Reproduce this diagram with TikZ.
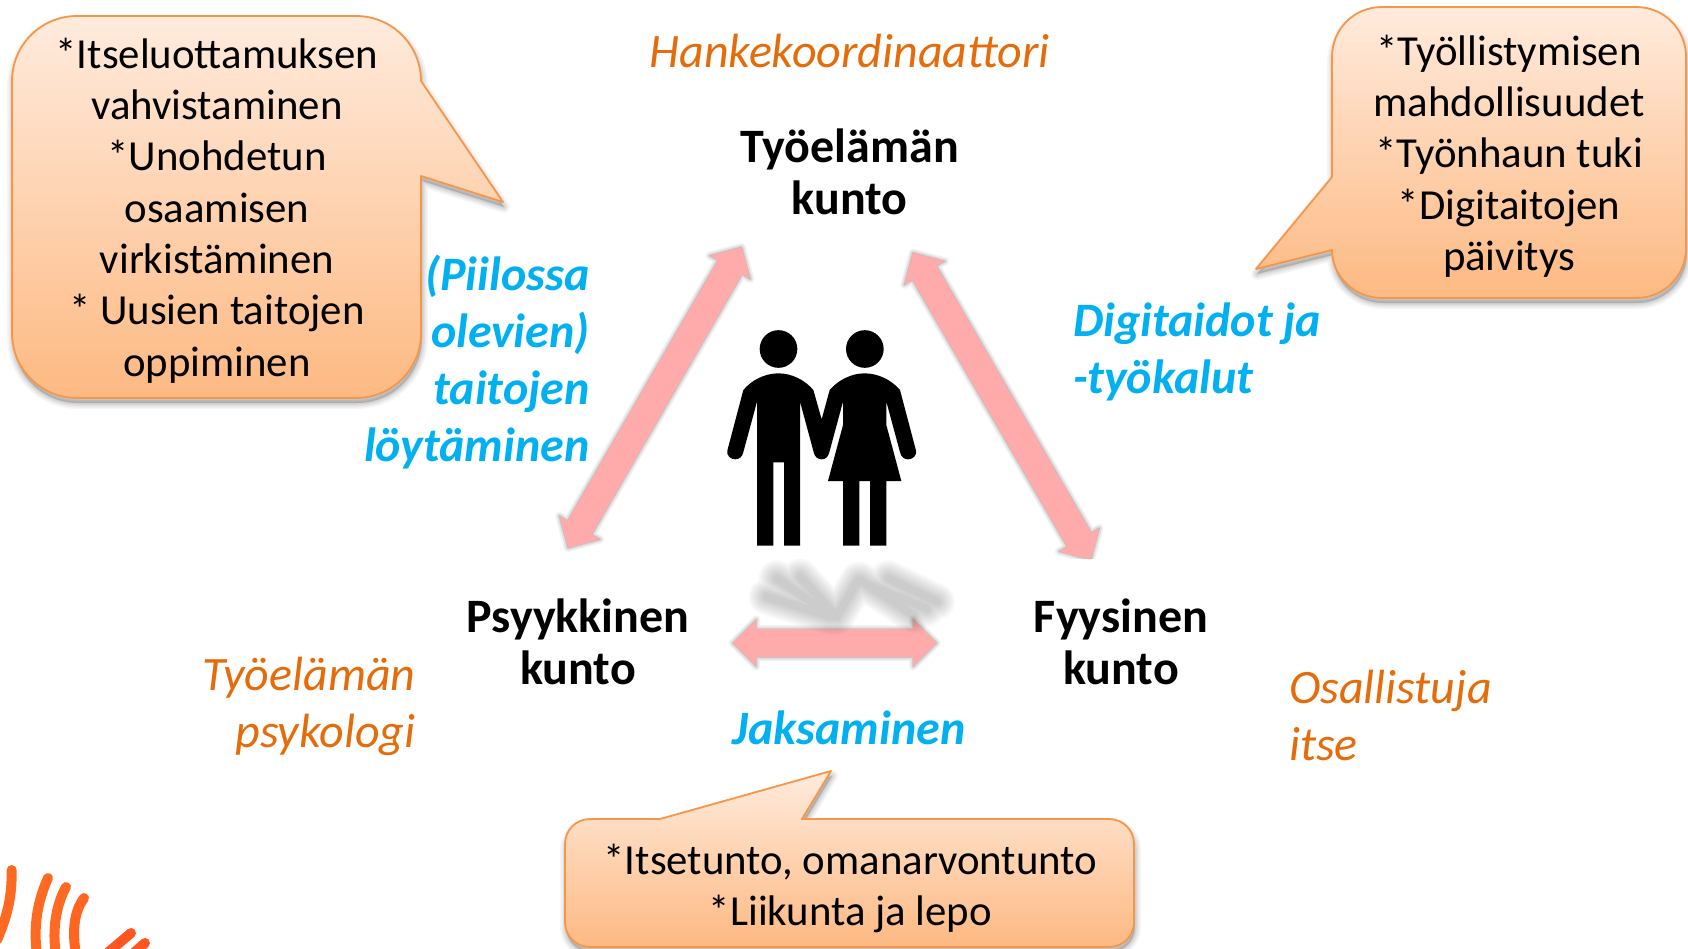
\documentclass[tikz,border=0pt]{standalone}
\usepackage{fontspec}
\setmainfont{Carlito}
\usetikzlibrary{calc}
\definecolor{calloutline}{HTML}{F79646}
\definecolor{calloutTop}{HTML}{FFEBDD}
\definecolor{calloutBot}{HTML}{FDB982}
\definecolor{arrowpink}{HTML}{FFABAB}
\definecolor{roleorange}{HTML}{E46C0A}
\definecolor{skillblue}{HTML}{00B0F0}
\definecolor{logoA}{HTML}{FF6A22}
\definecolor{logoB}{HTML}{FF5520}
\tikzset{
  every node/.style={inner sep=0pt,outer sep=0pt},
  bubbletext/.style={font=\fontsize{42.8}{51.3}\selectfont,text=black,align=center},
  dimtext/.style={font=\fontsize{48}{51.7}\selectfont\bfseries,text=black,align=center},
  roletext/.style={font=\fontsize{48}{57}\selectfont\itshape,text=roleorange},
  skilltext/.style={font=\fontsize{48}{57}\selectfont\bfseries\itshape,text=skillblue},
  bubble/.style={draw=calloutline,line width=1.8pt,top color=calloutTop,bottom color=calloutBot,line join=round},
  pinkarrow/.style={fill=arrowpink,draw=none},
  logostroke/.style={line width=10pt,line cap=round},
}
% soft shadow: several widening translucent copies of a path
\newcommand{\softshadow}[3]{%
  \foreach \wd/\op in {#3}{%
    \path[draw=black,fill=black,draw opacity=\op,fill opacity=\op,line width=\wd pt,line join=round,shift={#1}] #2;}%
}
\newcommand{\arrowpath}[2]{%
  (#1) -- ($(#1)!23.5pt!(#2)!23.5pt!90:(#2)$) -- ($(#1)!23.5pt!(#2)!14pt!90:(#2)$)
  -- ($(#2)!23.5pt!(#1)!14pt!-90:(#1)$) -- ($(#2)!23.5pt!(#1)!23.5pt!-90:(#1)$)
  -- (#2) -- ($(#2)!23.5pt!(#1)!23.5pt!90:(#1)$) -- ($(#2)!23.5pt!(#1)!14pt!90:(#1)$)
  -- ($(#1)!23.5pt!(#2)!14pt!-90:(#2)$) -- ($(#1)!23.5pt!(#2)!23.5pt!-90:(#2)$) -- cycle}
\newcommand{\leftbubble}{(77,16) -- (356,16) .. controls (392,16) and (421,45) .. (421,81) -- (503,202) -- (421,176) -- (421,333) .. controls (421,369) and (392,398) .. (356,398) -- (77,398) .. controls (41,398) and (12,369) .. (12,333) -- (12,81) .. controls (12,45) and (41,16) .. (77,16) -- cycle}
\newcommand{\rightbubble}{(1382,7) -- (1636,7) .. controls (1664,7) and (1686,29) .. (1686,57) -- (1686,248) .. controls (1686,276) and (1664,298) .. (1636,298) -- (1382,298) .. controls (1354,298) and (1332,276) .. (1332,250) -- (1256,269) -- (1332,177) -- (1332,57) .. controls (1332,29) and (1354,7) .. (1382,7) -- cycle}
\newcommand{\bottombubble}{(590,819) -- (660,819) -- (831,771) -- (802,819) -- (1109,819) .. controls (1123,819) and (1134,830) .. (1134,844) -- (1134,922) .. controls (1134,936) and (1123,947) .. (1109,947) -- (590,947) .. controls (576,947) and (565,936) .. (565,922) -- (565,844) .. controls (565,830) and (576,819) .. (590,819) -- cycle}
\begin{document}
\begin{tikzpicture}[x=1pt,y=-1pt]
\clip (0,0) rectangle (1688,948);
\useasboundingbox (0,0) rectangle (1688,948);

% logo
\draw[logostroke,logoA] (11.7,870) .. controls (12,895) and (8,915) .. (-3,940);
\draw[logostroke,logoA] (48,878) .. controls (38,900) and (33,925) .. (37,955);
\draw[logostroke,logoA] (66,887) .. controls (56,905) and (52,930) .. (56,955);
\draw[logostroke,logoA!70!logoB] (84,898) .. controls (74,912) and (72,930) .. (76,955);
\draw[logostroke,logoB] (131,933) -- (105,955);
\draw[logostroke,logoB] (145,943) -- (128,958);

% callouts
\softshadow{(1,5)}{\leftbubble}{12/0.035,9/0.04,6/0.05,3/0.06}
\softshadow{(1,5)}{\rightbubble}{12/0.035,9/0.04,6/0.05,3/0.06}
\softshadow{(1,5)}{\bottombubble}{12/0.035,9/0.04,6/0.05,3/0.06}
\path[bubble] \leftbubble;
\path[bubble] \rightbubble;
\path[bubble] \bottombubble;

% arrows
\coordinate (La) at (741.7,247);
\coordinate (Lb) at (568,548);
\coordinate (Ra) at (912.8,252.7);
\coordinate (Rb) at (1091,560);
\coordinate (Ha) at (732.7,643);
\coordinate (Hb) at (936.7,643);
\softshadow{(5,3)}{\arrowpath{La}{Lb}}{8/0.05,5/0.07,2/0.09}
\path[pinkarrow] \arrowpath{La}{Lb};
\begin{scope}
\clip (850,240) rectangle (1130,558.5);
\softshadow{(5,3)}{\arrowpath{Ra}{Rb}}{8/0.05,5/0.07,2/0.09}
\path[pinkarrow] \arrowpath{Ra}{Rb};
\end{scope}
\softshadow{(3,5)}{\arrowpath{Ha}{Hb}}{8/0.05,5/0.07,2/0.09}
\path[pinkarrow] \arrowpath{Ha}{Hb};

% blurred shadow of the figures
\begin{scope}[shift={(680,300)},scale=1/3,line cap=round,line join=round]
\foreach \wd in {36,32,28,24,20,16,12,8}{
  \draw[black,opacity=0.026,line width=\wd pt]
    (290,835) -- (460,950) (360,830) -- (470,950) (260,890) -- (450,950)
    (470,950) -- (535,840) (540,840) -- (700,945) (625,835) -- (770,905) (575,860) -- (740,925);
}
\end{scope}

% figures
\begin{scope}[shift={(680,300)},scale=1/3]
\fill[black] (295.5,147) circle[radius=56.5];
\fill[black] (554.5,147) circle[radius=56.5];
\fill[black]
  (295,220) .. controls (335,220) and (375,240) .. (400,270) -- (425,358) -- (449,270)
  .. controls (475,240) and (514,220) .. (554,220) .. controls (594,220) and (635,240) .. (660,270)
  -- (707,448) .. controls (713,468) and (697,478) .. (684,478) .. controls (672,478) and (664,470) .. (661,460)
  -- (619,305) -- (619,375) -- (664,543) -- (619,543) -- (619,737) -- (570,737) -- (570,543) -- (538,543)
  -- (538,737) -- (489,737) -- (489,543) -- (444,543) -- (489,375) -- (489,305) -- (447,460)
  .. controls (444,470) and (437,478) .. (425,478) .. controls (413,478) and (405,470) .. (402,460)
  -- (360,305) -- (360,737) -- (312,737) -- (312,487) -- (280,487) -- (280,737) -- (231,737) -- (231,305)
  -- (189,460) .. controls (186,470) and (178,478) .. (166,478) .. controls (153,478) and (137,468) .. (143,448)
  -- (190,270) .. controls (215,240) and (255,220) .. (295,220) -- cycle;
\end{scope}

% bubble texts
\node[bubbletext] (t1) at (217,210.5) {*Itseluottamuksen\\vahvistaminen\\*Unohdetun\\osaamisen\\virkistäminen\\* Uusien taitojen\\oppiminen};
\node[bubbletext] (t2) at (1509,156) {*Työllistymisen\\mahdollisuudet\\*Työnhaun tuki\\*Digitaitojen\\päivitys};
\node[bubbletext] (t3) at (850.5,888.5) {*Itsetunto, omanarvontunto\\*Liikunta ja lepo};

% dimensions
\node[dimtext] (d1) at (849.5,171.5) {Työelämän\\kunto};
\node[dimtext] (d2) at (578,641.5) {Psyykkinen\\kunto};
\node[dimtext] (d3) at (1121,641.5) {Fyysinen\\kunto};

% roles
\node[roletext,anchor=center] (r1) at (849.5,51) {Hankekoordinaattori};
\node[roletext,align=right,anchor=east] (r2) at (415.5,706.5) {Työelämän\\psykologi};
\node[roletext,align=left,anchor=west] (r3) at (1289,715.5) {Osallistuja\\itse};

% skills
\node[skilltext,align=right,anchor=east] (s1) at (589.5,361.5) {(Piilossa\\olevien)\\taitojen\\löytäminen};
\node[skilltext,align=left,anchor=west] (s2) at (1073,352) {Digitaidot ja\\-työkalut};
\node[skilltext] (s3) at (849,728) {Jaksaminen};
\end{tikzpicture}
\end{document}
